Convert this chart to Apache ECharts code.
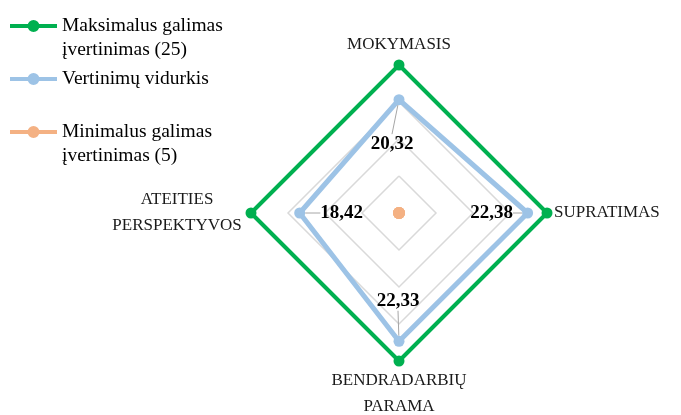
<!DOCTYPE html>
<html><head><meta charset="utf-8">
<script src="https://cdn.jsdelivr.net/npm/echarts@6/dist/echarts.min.js"></script>
<style>html,body{margin:0;padding:0;background:#fff}#c{width:681px;height:415px}</style>
</head><body><div id="c"></div>
<script>
// Indicators in ECharts radar order (counter-clockwise from top)
const indicators = ['MOKYMASIS', 'ATEITIES\nPERSPEKTYVOS', 'BENDRADARBIŲ\nPARAMA', 'SUPRATIMAS'];
const seriesNames = ['Maksimalus galimas įvertinimas (25)', 'Vertinimų vidurkis', 'Minimalus galimas įvertinimas (5)'];
const legendLabels = ['Maksimalus galimas\nįvertinimas (25)', 'Vertinimų vidurkis\n ', 'Minimalus galimas\nįvertinimas (5)'];
const maxValues = [25, 25, 25, 25];
const avgValues = [20.32, 18.42, 22.33, 22.38];
const minValues = [5, 5, 5, 5];
const scaleMin = 5;
const scaleMax = 25;

const CENTER = [399, 213];
const FONT = 'Liberation Serif';
const colors = ['#00b050', '#9dc3e6', '#f4b183'];
const ICON = 'path://M0,0L0.01,0Z M0,48L0.01,48Z M0,10L47,10L47,14L0,14Z M17.5,12A6,6 0 1 1 29.5,12A6,6 0 1 1 17.5,12Z';

function fmt(v) { return v.toFixed(2).replace('.', ','); }

const chart = echarts.init(document.getElementById('c'), null, {renderer: 'canvas'});
chart.setOption({
  animation: false,
  backgroundColor: '#fff',
  legend: {
    orient: 'vertical', left: 5, top: 9,
    itemWidth: 47, itemHeight: 48, itemGap: 5,
    icon: ICON,
    itemStyle: {borderWidth: 0},
    data: seriesNames,
    formatter: function (n) { return legendLabels[seriesNames.indexOf(n)]; },
    textStyle: {fontFamily: FONT, fontSize: 19.5, lineHeight: 24, color: '#000'},
    selectedMode: false
  },
  radar: {
    center: CENTER, radius: 148, startAngle: 90, shape: 'polygon', splitNumber: 4,
    nameGap: 7,
    indicator: indicators.map(function (n) { return {name: n, min: scaleMin, max: scaleMax}; }),
    axisName: {
      color: '#1a1a1a', fontFamily: FONT, fontSize: 17, lineHeight: 26,
      formatter: function (n) {
        if (n.indexOf('\n') < 0) return n;
        return n.split('\n').map(function (s) { return '{c|' + s + '}'; }).join('\n');
      },
      rich: {c: {width: 134, align: 'center', fontFamily: FONT, fontSize: 17, lineHeight: 26, color: '#1a1a1a'}}
    },
    splitLine: {lineStyle: {color: '#d9d9d9', width: 1.5}},
    splitArea: {show: false},
    axisLine: {show: false},
    axisTick: {show: false},
    axisLabel: {show: false}
  },
  series: [
    {
      type: 'radar', name: seriesNames[0], symbol: 'circle', symbolSize: 11, z: 2,
      itemStyle: {color: colors[0]}, lineStyle: {color: colors[0], width: 4},
      emphasis: {disabled: true},
      data: [{name: seriesNames[0], value: maxValues}]
    },
    {
      type: 'radar', name: seriesNames[1], symbol: 'circle', symbolSize: 11, z: 3,
      itemStyle: {color: colors[1]}, lineStyle: {color: colors[1], width: 5},
      emphasis: {disabled: true},
      label: {
        show: true,
        formatter: function (p) { return fmt(Array.isArray(p.value) ? p.value[0] : p.value); },
        fontFamily: FONT, fontWeight: 'bold', fontSize: 19, color: '#000'
      },
      labelLine: {show: true, lineStyle: {color: '#a6a6a6', width: 1}},
      labelLayout: function (p) {
        const cx = p.rect.x + p.rect.width / 2, cy = p.rect.y + p.rect.height / 2;
        const dx = cx - CENTER[0], dy = cy - CENTER[1];
        let ox, oy;
        if (Math.abs(dy) > Math.abs(dx)) { if (dy < 0) { ox = -7; oy = 44; } else { ox = -1; oy = -40; } }
        else { if (dx < 0) { ox = 42; oy = 0; } else { ox = -36; oy = 0; } }
        return {x: cx + ox, y: cy + oy, align: 'center', verticalAlign: 'middle'};
      },
      data: [{name: seriesNames[1], value: avgValues}]
    },
    {
      type: 'radar', name: seriesNames[2], symbol: 'circle', symbolSize: 12, z: 4,
      itemStyle: {color: colors[2]}, lineStyle: {color: colors[2], width: 4},
      emphasis: {disabled: true},
      data: [{name: seriesNames[2], value: minValues}]
    }
  ]
});
</script></body></html>
